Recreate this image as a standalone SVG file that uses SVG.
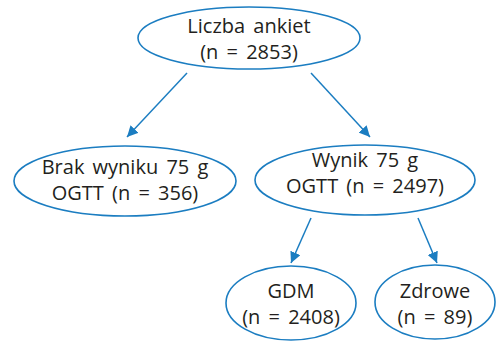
<svg xmlns="http://www.w3.org/2000/svg" width="496" height="342" viewBox="0 0 496 342">
<defs>
<style>
.n{fill:#fff;stroke:#1b7dc1;stroke-width:1.6}
.t{font-family:"Open Sans","Noto Sans",sans-serif;font-size:20px;fill:#231f20;text-anchor:middle;word-spacing:3px}
.c{stroke:#1b7dc1;stroke-width:1.5;fill:none;marker-end:url(#a)}
</style>
<marker id="a" viewBox="0 0 10 10" refX="10" refY="5" markerWidth="11" markerHeight="11" markerUnits="userSpaceOnUse" orient="auto"><path d="M0,0L10,5L0,10z" fill="#1b7dc1"/></marker>
</defs>
<g id="connectors">
<line class="c" x1="187" y1="73" x2="127" y2="137"/>
<line class="c" x1="311" y1="73" x2="370" y2="137"/>
<line class="c" x1="311" y1="218" x2="291" y2="263"/>
<line class="c" x1="418" y1="218" x2="437" y2="263"/>
</g>
<g id="root"><ellipse class="n" cx="249" cy="38" rx="111" ry="31"/><text class="t" x="249" y="33">Liczba ankiet</text><text class="t" x="249" y="59">(n = 2853)</text></g>
<g id="brak"><ellipse class="n" cx="125" cy="181" rx="111" ry="35"/><text class="t" x="125" y="174">Brak wyniku 75 g</text><text class="t" x="125" y="200">OGTT (n = 356)</text></g>
<g id="wynik"><ellipse class="n" cx="365" cy="180" rx="110" ry="35"/><text class="t" x="365" y="167">Wynik 75 g</text><text class="t" x="365" y="193">OGTT (n = 2497)</text></g>
<g id="gdm"><ellipse class="n" cx="291" cy="303" rx="65" ry="37"/><text class="t" x="291" y="298">GDM</text><text class="t" x="291" y="324">(n = 2408)</text></g>
<g id="zdrowe"><ellipse class="n" cx="435" cy="302" rx="60" ry="37"/><text class="t" x="435" y="298">Zdrowe</text><text class="t" x="435" y="324">(n = 89)</text></g>
</svg>
